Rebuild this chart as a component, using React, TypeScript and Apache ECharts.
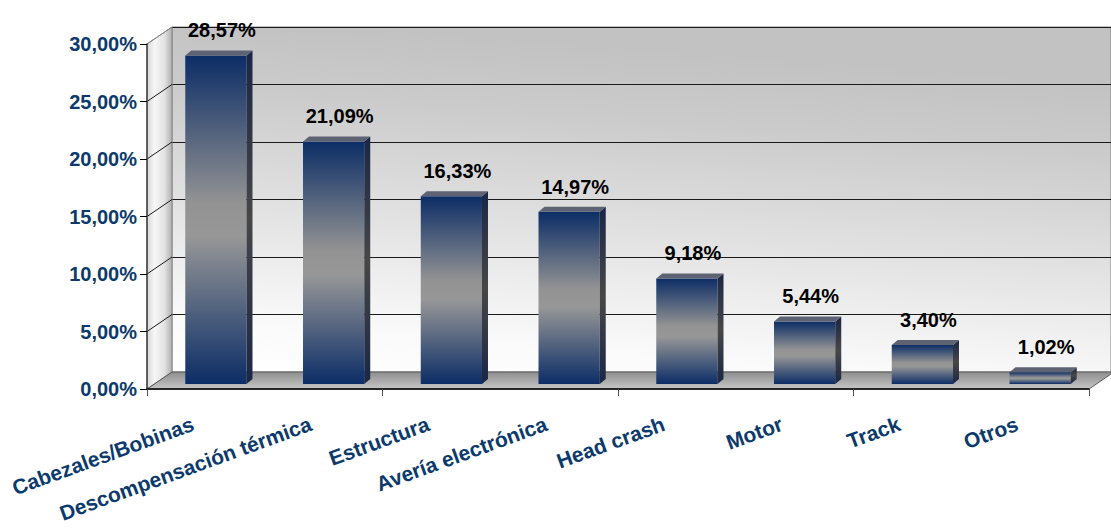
import React, { useEffect, useRef } from 'react';
import * as echarts from 'echarts';

const categories = [
  'Cabezales/Bobinas',
  'Descompensación térmica',
  'Estructura',
  'Avería electrónica',
  'Head crash',
  'Motor',
  'Track',
  'Otros',
];
const values = [28.57, 21.09, 16.33, 14.97, 9.18, 5.44, 3.4, 1.02];
const yTicks = [0, 5, 10, 15, 20, 25, 30];

const fmt = (v: number) => v.toFixed(2).replace('.', ',') + '%';
const FONT = '"Liberation Sans", Arial, sans-serif';
const NAVY_TEXT = '#0c3a6c';

export default function App() {
  const ref = useRef<HTMLDivElement>(null);

  useEffect(() => {
    const chart = echarts.init(ref.current!, null, { renderer: 'svg' });
    const F = { left: 147, top: 44, width: 942, height: 345 };
    const D = { dx: 25, dy: -17 };
    const BP = { dx: 10, dy: -5 };
    const BD = { dx: 6, dy: -5 };
    const yMin = yTicks[0];
    const yMax = yTicks[yTicks.length - 1];
    const yInt = yTicks[1] - yTicks[0];

    const grids = [
      { ...F },
      {
        left: F.left + D.dx,
        top: F.top + D.dy,
        width: F.width,
        height: F.height,
        show: true,
        borderColor: '#858585',
        borderWidth: 1,
        backgroundColor: new echarts.graphic.LinearGradient(0, 1, 0.2, 0, [
          { offset: 0, color: '#ffffff' },
          { offset: 0.15, color: '#fafafa' },
          { offset: 0.5, color: '#e0e0e0' },
          { offset: 0.8, color: '#cbcbcb' },
          { offset: 1, color: '#c2c2c2' },
        ]),
      },
      { left: F.left + BP.dx, top: F.top + BP.dy, width: F.width, height: F.height },
      { left: F.left - 13, top: F.top, width: F.width, height: F.height },
    ];

    const hiddenX = (gi: number) => ({
      type: 'category',
      gridIndex: gi,
      data: categories,
      axisLine: { show: false },
      axisTick: { show: false },
      axisLabel: { show: false },
      splitLine: { show: false },
    });
    const hiddenY = (gi: number) => ({
      type: 'value',
      gridIndex: gi,
      min: yMin,
      max: yMax,
      interval: yInt,
      axisLine: { show: false },
      axisTick: { show: false },
      axisLabel: { show: false },
      splitLine: { show: false },
    });

    const frontGrad = new echarts.graphic.LinearGradient(0, 0, 0, 1, [
      { offset: 0, color: '#0c2d66' },
      { offset: 0.45, color: '#939393' },
      { offset: 0.55, color: '#979797' },
      { offset: 1, color: '#0c2d66' },
    ]);
    const sideGrad = new echarts.graphic.LinearGradient(0, 0, 0, 1, [
      { offset: 0, color: '#1a2645' },
      { offset: 0.5, color: '#474747' },
      { offset: 1, color: '#1a2645' },
    ]);

    const option: any = {
      animation: false,
      grid: grids,
      xAxis: [
        {
          type: 'category',
          gridIndex: 0,
          data: categories,
          z: 6,
          axisLine: { show: true, lineStyle: { color: '#000', width: 1.5 } },
          axisTick: { show: true, length: 7, lineStyle: { color: '#505050' } },
          axisLabel: { show: false },
          splitLine: { show: false },
        },
        hiddenX(1),
        hiddenX(2),
        {
          ...hiddenX(3),
          axisLabel: {
            show: true,
            interval: 0,
            rotate: 20,
            margin: 34,
            color: NAVY_TEXT,
            fontSize: 21,
            fontWeight: 'bold',
            fontFamily: FONT,
          },
        },
      ],
      yAxis: [
        {
          type: 'value',
          gridIndex: 0,
          min: yMin,
          max: yMax,
          interval: yInt,
          z: 6,
          axisLine: { show: true, lineStyle: { color: '#404040', width: 1.5 } },
          axisTick: { show: true, length: 7, lineStyle: { color: '#000' } },
          axisLabel: {
            show: true,
            margin: 10,
            formatter: (v: number) => fmt(v),
            color: NAVY_TEXT,
            fontSize: 20,
            fontWeight: 'bold',
            fontFamily: FONT,
          },
          splitLine: { show: false },
        },
        {
          ...hiddenY(1),
          splitLine: { show: true, lineStyle: { color: '#1a1a1a', width: 1 } },
        },
        hiddenY(2),
        hiddenY(3),
      ],
      series: [
        {
          type: 'custom',
          xAxisIndex: 2,
          yAxisIndex: 2,
          z: 10,
          data: values.map((v, i) => [i, v]),
          encode: { x: 0, y: 1 },
          renderItem: (params: any, api: any) => {
            const i = api.value(0);
            const v = api.value(1);
            const top = api.coord([i, v]);
            const base = api.coord([i, 0]);
            const bw = api.size([1, 0])[0] * 0.52;
            const x0 = top[0] - bw / 2;
            const x1 = top[0] + bw / 2;
            const yt = top[1];
            const yb = base[1];
            return {
              type: 'group',
              children: [
                {
                  type: 'rect',
                  shape: { x: x0, y: yt, width: bw, height: yb - yt },
                  style: { fill: frontGrad },
                },
                {
                  type: 'polygon',
                  shape: {
                    points: [
                      [x1, yt],
                      [x1 + BD.dx, yt + BD.dy],
                      [x1 + BD.dx, yb + BD.dy],
                      [x1, yb],
                    ],
                  },
                  style: { fill: sideGrad },
                },
                {
                  type: 'polygon',
                  shape: {
                    points: [
                      [x0, yt],
                      [x0 + BD.dx, yt + BD.dy],
                      [x1 + BD.dx, yt + BD.dy],
                      [x1, yt],
                    ],
                  },
                  style: { fill: '#5e6373' },
                },
                {
                  type: 'text',
                  style: {
                    text: fmt(v),
                    x: top[0] + 6,
                    y: yt + BD.dy - 20,
                    align: 'center',
                    verticalAlign: 'middle',
                    fontSize: 20,
                    fontWeight: 'bold',
                    fontFamily: FONT,
                    fill: '#000',
                  },
                },
              ],
            };
          },
        },
      ],
    };

    chart.setOption(option);

    const fy = (t: number) => chart.convertToPixel({ yAxisIndex: 0 }, t) as number;
    const by = (t: number) => chart.convertToPixel({ yAxisIndex: 1 }, t) as number;
    const FL = F.left;
    const BL = F.left + D.dx;
    const FR = F.left + F.width;
    const BR = FR + D.dx;

    const graphic: any[] = [
      {
        type: 'polygon',
        z: 1,
        shape: {
          points: [
            [FL, fy(yMax)],
            [BL, by(yMax)],
            [BL, by(yMin)],
            [FL, fy(yMin)],
          ],
        },
        style: {
          fill: new echarts.graphic.LinearGradient(0, 0, 1, 0, [
            { offset: 0, color: '#d6d6d6' },
            { offset: 0.3, color: '#f7f7f7' },
            { offset: 0.7, color: '#e2e2e2' },
            { offset: 1, color: '#b0b0b0' },
          ]),
          stroke: '#858585',
          lineWidth: 1,
        },
      },
      {
        type: 'polygon',
        z: 2,
        shape: {
          points: [
            [FL, fy(yMin)],
            [FR, fy(yMin)],
            [BR, by(yMin)],
            [BL, by(yMin)],
          ],
        },
        style: {
          fill: new echarts.graphic.LinearGradient(0, 0, 0, 1, [
            { offset: 0, color: '#8e8e8e' },
            { offset: 1, color: '#c6c6c6' },
          ]),
          stroke: '#5a5a5a',
          lineWidth: 1,
        },
      },
    ];
    yTicks.forEach((t) => {
      if (t === yMin) return;
      graphic.push({
        type: 'line',
        z: 3,
        shape: { x1: FL, y1: fy(t), x2: BL, y2: by(t) },
        style: { stroke: t === yMax ? '#858585' : '#1a1a1a', lineWidth: 1 },
      });
    });
    chart.setOption({ graphic });

    return () => chart.dispose();
  }, []);

  return (
    <div
      ref={ref}
      style={{ position: 'fixed', left: 0, top: 0, width: 1111, height: 529, background: '#fff' }}
    />
  );
}
